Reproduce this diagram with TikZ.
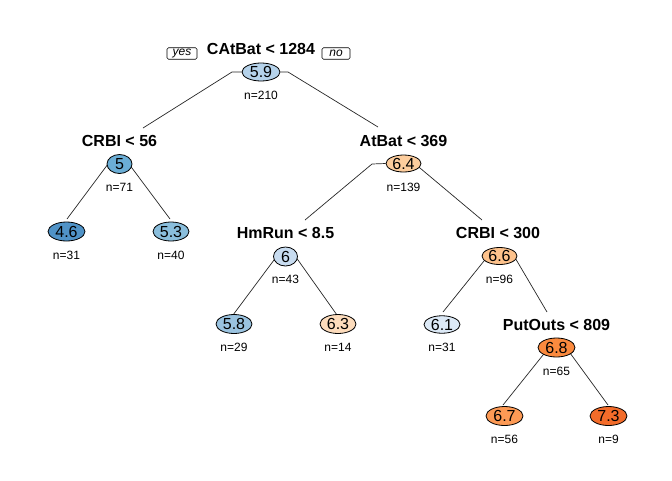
\documentclass[tikz,border=0pt]{standalone}
\usepackage{fontspec}
\setmainfont{Liberation Sans}
\usetikzlibrary{shapes.geometric,backgrounds}
\definecolor{c46}{HTML}{5093C7}
\definecolor{c50}{HTML}{6BAED6}
\definecolor{c53}{HTML}{8ABEDC}
\definecolor{c58}{HTML}{9AC3E0}
\definecolor{c59}{HTML}{B5D2EA}
\definecolor{c60}{HTML}{C8DCF0}
\definecolor{c61}{HTML}{DCE9F6}
\definecolor{c63}{HTML}{FDDCBC}
\definecolor{c64}{HTML}{FDCD9D}
\definecolor{c66}{HTML}{FDC28C}
\definecolor{c67}{HTML}{FD9A55}
\definecolor{c68}{HTML}{FB8A3E}
\definecolor{c73}{HTML}{F36C2A}
\tikzset{
  val/.style={ellipse,draw=black,line width=0.8pt,inner sep=0pt,minimum width=37pt,minimum height=19pt,font=\fontsize{16}{18}\selectfont},
  sval/.style={val,minimum width=24pt},
  split/.style={inner sep=0pt,font=\fontsize{16}{19}\selectfont\bfseries},
  cnt/.style={inner sep=0pt,font=\fontsize{12}{14}\selectfont},
  yn/.style={draw=black,line width=0.6pt,rounded corners=1.5pt,inner sep=0pt,minimum height=11.5pt,font=\fontsize{12}{14}\selectfont\itshape},
  br/.style={draw=black!85,line width=0.7pt}
}
\begin{document}
\begin{tikzpicture}[x=1pt,y=-1pt]
\useasboundingbox (0,0) rectangle (672,480);
% root
\node[val,fill=c59,minimum width=38pt,minimum height=18pt] (root) at (261,72) {5.9};
\node[split] (lroot) at (261,49) {CAtBat < 1284};
\node[cnt] (croot) at (261,95.5) {n=210};
\node[yn,minimum width=30pt] (yes) at (182,53.5) {yes};
\node[yn,minimum width=28pt] (no) at (336,53.5) {no};
% level 2
\node[sval,fill=c50,minimum width=25pt] (n5) at (119.5,164) {5};
\node[split] (l5) at (119.5,141) {CRBI < 56};
\node[cnt] (c5) at (119.5,187.5) {n=71};
\node[val,fill=c64,minimum width=35pt,minimum height=17pt] (n64) at (403.5,163.5) {6.4};
\node[split] (l64) at (403.5,141) {AtBat < 369};
\node[cnt] (c64n) at (403.5,187) {n=139};
% level 3 leaves
\node[val,fill=c46] (n46) at (66.5,231.5) {4.6};
\node[cnt] (c46n) at (66.5,255) {n=31};
\node[val,fill=c53,minimum width=36pt] (n53) at (171,231.5) {5.3};
\node[cnt] (c53n) at (171,255) {n=40};
% level 3 internal
\node[sval,fill=c60] (n6) at (285.5,256.5) {6};
\node[split] (l6) at (285.5,233) {HmRun < 8.5};
\node[cnt] (c6n) at (285.5,279.5) {n=43};
\node[val,fill=c66,minimum width=35pt,minimum height=17pt] (n66) at (499.5,256) {6.6};
\node[split] (l66) at (498,233) {CRBI < 300};
\node[cnt] (c66n) at (499.5,279) {n=96};
% level 4
\node[val,fill=c58,minimum width=36pt] (n58) at (234,324) {5.8};
\node[cnt] (c58n) at (234,347.5) {n=29};
\node[val,fill=c63,minimum width=36pt] (n63) at (338,324) {6.3};
\node[cnt] (c63n) at (338,347.5) {n=14};
\node[val,fill=c61,minimum width=36pt,minimum height=17.5pt] (n61) at (442,324.5) {6.1};
\node[cnt] (c61n) at (442,347.5) {n=31};
\node[val,fill=c68] (n68) at (556.5,347.5) {6.8};
\node[split] (l68) at (556.5,325) {PutOuts < 809};
\node[cnt] (c68n) at (556.5,371.5) {n=65};
% level 5
\node[val,fill=c67] (n67) at (504.5,416) {6.7};
\node[cnt] (c67n) at (504.5,439) {n=56};
\node[val,fill=c73] (n73) at (608.5,416) {7.3};
\node[cnt] (c73n) at (608.5,439) {n=9};
% branch coordinates
\coordinate (rLa) at (232,72);
\coordinate (rLb) at (143,128);
\coordinate (rRa) at (288,72);
\coordinate (rRb) at (378,127);
\coordinate (n5L) at (108,164);
\coordinate (n5Le) at (67,219);
\coordinate (n5R) at (129,164);
\coordinate (n5Re) at (170,219);
\coordinate (n64La) at (372,164);
\coordinate (n64Lb) at (305,220);
\coordinate (n64R) at (414.6,163.5);
\coordinate (n64Rb) at (482,220);
\coordinate (n6L) at (276.6,256.5);
\coordinate (n6Le) at (233,315);
\coordinate (n6R) at (295.5,256.5);
\coordinate (n6Re) at (337,315);
\coordinate (n66L) at (488,256);
\coordinate (n66Le) at (443,312);
\coordinate (n66R) at (514,256);
\coordinate (n66Rb) at (547,312);
\coordinate (n68L) at (549,347.5);
\coordinate (n68Le) at (503,405);
\coordinate (n68R) at (566,347.5);
\coordinate (n68Re) at (608,405);
\begin{scope}[on background layer]
\draw[br] (root.west) -- (rLa) -- (rLb);
\draw[br] (root.east) -- (rRa) -- (rRb);
\draw[br] (n5L) -- (n5Le);
\draw[br] (n5R) -- (n5Re);
\draw[br] (n64.west) -- (n64La) -- (n64Lb);
\draw[br] (n64R) -- (n64Rb);
\draw[br] (n6L) -- (n6Le);
\draw[br] (n6R) -- (n6Re);
\draw[br] (n66L) -- (n66Le);
\draw[br] (n66R) -- (n66Rb);
\draw[br] (n68L) -- (n68Le);
\draw[br] (n68R) -- (n68Re);
\end{scope}
\end{tikzpicture}
\end{document}
